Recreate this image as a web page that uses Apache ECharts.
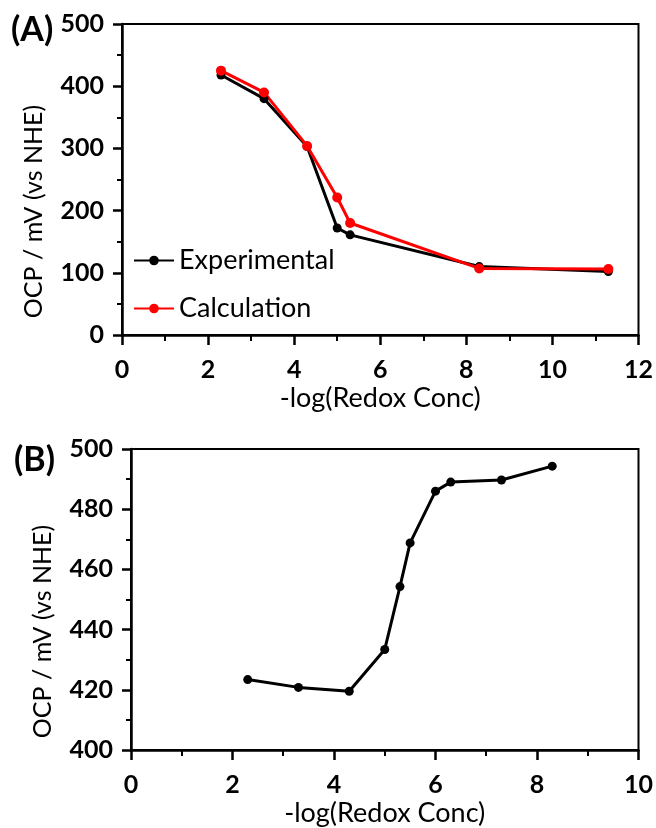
<!DOCTYPE html>
<html>
<head>
<meta charset="utf-8">
<script src="https://cdn.jsdelivr.net/npm/echarts@6/dist/echarts.min.js"></script>
<style>
  html, body { margin: 0; padding: 0; background: #fff; }
  #chart { width: 656px; height: 828px; }
</style>
</head>
<body>
<div id="chart"></div>
<script>
// panel A
const logConcA = [2.3, 3.3, 4.3, 5.0, 5.3, 8.3, 11.3];
const experimentalA = [418, 380, 303, 172, 161, 110, 102];
const calculationA = [425, 390, 304, 221, 180, 107, 106];

// panel B
const logConcB = [2.3, 3.3, 4.3, 5.0, 5.3, 5.5, 6.0, 6.3, 7.3, 8.3];
const ocpB = [423.4, 420.8, 419.5, 433.4, 454.3, 468.8, 486, 489, 489.7, 494.3];

const FONT = 'Lato';

function pairs(xs, ys) {
  return xs.map((x, i) => [x, ys[i]]);
}

function xAxisFor(gridIndex, max) {
  return {
    type: 'value',
    gridIndex: gridIndex,
    min: 0,
    max: max,
    interval: 2,
    name: '-log(Redox Conc)',
    nameLocation: 'middle',
    nameGap: 50,
    nameTextStyle: { fontFamily: FONT, fontSize: 27, color: '#000' },
    axisLine: { onZero: false, lineStyle: { color: '#000', width: 2.5 } },
    axisTick: { inside: false, length: 10, lineStyle: { color: '#000', width: 2.5 } },
    minorTick: { show: true, splitNumber: 2, length: 6, lineStyle: { color: '#000', width: 2 } },
    axisLabel: { margin: 22, fontFamily: FONT, fontWeight: 'bold', fontSize: 25, color: '#000' },
    splitLine: { show: false }
  };
}

function yAxisFor(gridIndex, min, max, interval) {
  return {
    type: 'value',
    gridIndex: gridIndex,
    min: min,
    max: max,
    interval: interval,
    name: 'OCP / mV (vs NHE)',
    nameLocation: 'middle',
    nameGap: 76,
    nameTextStyle: { fontFamily: FONT, fontSize: 25, color: '#000', padding: [0, 64, 0, 0] },
    axisLine: { onZero: false, lineStyle: { color: '#000', width: 2.5 } },
    axisTick: { inside: false, length: 9, lineStyle: { color: '#000', width: 2.5 } },
    minorTick: { show: true, splitNumber: 2, length: 5, lineStyle: { color: '#000', width: 2 } },
    axisLabel: { margin: 18, fontFamily: FONT, fontWeight: 'bold', fontSize: 25, color: '#000' },
    splitLine: { show: false }
  };
}

const chart = echarts.init(document.getElementById('chart'));

const option = {
  backgroundColor: '#fff',
  animation: false,
  title: [
    { text: '(A)', left: 6, top: 8, textStyle: { fontFamily: FONT, fontWeight: 'bold', fontSize: 34, color: '#000' } },
    { text: '(B)', left: 9, top: 438, textStyle: { fontFamily: FONT, fontWeight: 'bold', fontSize: 34, color: '#000' } }
  ],
  legend: {
    data: ['Experimental', 'Calculation'],
    orient: 'vertical',
    left: 128,
    top: 242,
    itemWidth: 40,
    itemHeight: 12,
    itemGap: 21,
    textStyle: { fontFamily: FONT, fontSize: 27, color: '#000' }
  },
  grid: [
    { left: 122, right: 17, top: 24, bottom: 493, show: true, borderColor: '#000', borderWidth: 2 },
    { left: 131, right: 15, top: 449, bottom: 75, show: true, borderColor: '#000', borderWidth: 2 }
  ],
  xAxis: [xAxisFor(0, 12), xAxisFor(1, 10)],
  yAxis: [yAxisFor(0, 0, 500, 100), yAxisFor(1, 400, 500, 20)],
  series: [
    {
      name: 'Experimental',
      type: 'line',
      xAxisIndex: 0,
      yAxisIndex: 0,
      data: pairs(logConcA, experimentalA),
      symbol: 'circle',
      symbolSize: 9,
      itemStyle: { color: '#000' },
      lineStyle: { color: '#000', width: 3 }
    },
    {
      name: 'Calculation',
      type: 'line',
      xAxisIndex: 0,
      yAxisIndex: 0,
      data: pairs(logConcA, calculationA),
      symbol: 'circle',
      symbolSize: 10,
      itemStyle: { color: '#ff0000' },
      lineStyle: { color: '#ff0000', width: 3 }
    },
    {
      name: 'OCP',
      type: 'line',
      xAxisIndex: 1,
      yAxisIndex: 1,
      data: pairs(logConcB, ocpB),
      symbol: 'circle',
      symbolSize: 9,
      itemStyle: { color: '#000' },
      lineStyle: { color: '#000', width: 3 }
    }
  ]
};

chart.setOption(option);
</script>
</body>
</html>
